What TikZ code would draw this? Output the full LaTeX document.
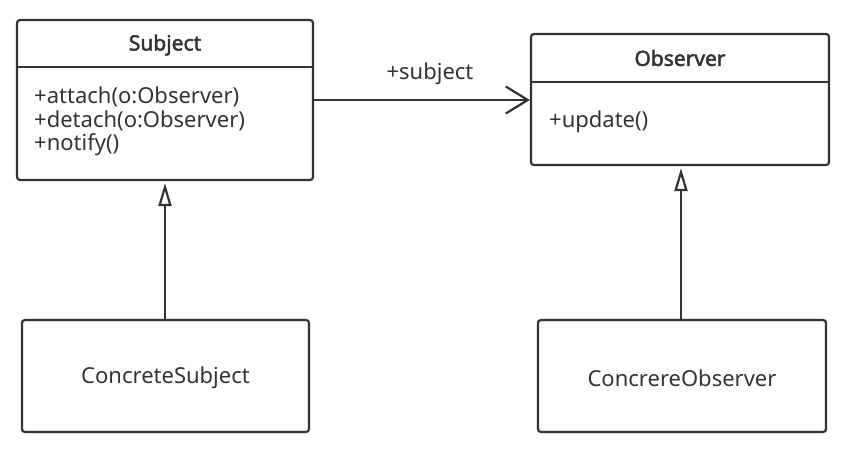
\documentclass[tikz,border=0pt]{standalone}
\usepackage{fontspec}
\setmainfont{Noto Sans}
\newfontfamily\ttlfont{Noto Sans}[FakeBold=2.2]
\usetikzlibrary{arrows.meta}
\definecolor{ink}{HTML}{333333}
\tikzset{
  box/.style={draw=ink, line width=2.2pt, rounded corners=3pt, inner sep=0pt},
  txt/.style={text=ink, inner sep=0pt, font=\fontsize{22}{26}\selectfont},
  ttl/.style={text=ink, inner sep=0pt, font=\ttlfont\fontsize{21}{25}\selectfont},
  conn/.style={draw=ink, line width=2.2pt},
  inh/.style={conn, -{Triangle[open, length=23pt, width=13pt, line width=2.2pt]}, shorten >=2pt},
}
\begin{document}
\begin{tikzpicture}[x=1pt,y=-1pt]
\useasboundingbox (0,0) rectangle (858,448);
% Subject
\node[box, minimum width=296pt, minimum height=160pt] (subj) at (165,100) {};
\draw[conn] (subj.west |- 0,67) -- (subj.east |- 0,67);
\node[ttl] (subjt) at (165,45) {Subject};
\node[txt, anchor=west] (m1) at (34,97) {+attach(o:Observer)};
\node[txt, anchor=west] (m2) at (34,121) {+detach(o:Observer)};
\node[txt, anchor=west] (m3) at (34,145) {+notify()};
% Observer
\node[box, minimum width=298pt, minimum height=131pt] (obs) at (680,99.5) {};
\draw[conn] (obs.west |- 0,82) -- (obs.east |- 0,82);
\node[ttl] (obst) at (680,58) {Observer};
\node[txt, anchor=west] (u1) at (549,122) {+update()};
% Concrete
\node[box, minimum width=287pt, minimum height=112pt] (csub) at (165.5,376) {};
\node[txt] (csubt) at (165.5,378) {ConcreteSubject};
\node[box, minimum width=288pt, minimum height=112pt] (cobs) at (682,376) {};
\node[txt] (cobst) at (682,378) {ConcrereObserver};
% connectors
\draw[conn, -{Straight Barb[length=22pt, width=27pt, line width=2.2pt]}] (subj.east) -- (obs.west |- subj.east);
\node[txt] (lbl) at (430,74) {+subject};
\draw[inh] (csub.north -| 165,0) -- (subj.south -| 165,0);
\draw[inh] (cobs.north -| 681,0) -- (obs.south -| 681,0);
\end{tikzpicture}
\end{document}
